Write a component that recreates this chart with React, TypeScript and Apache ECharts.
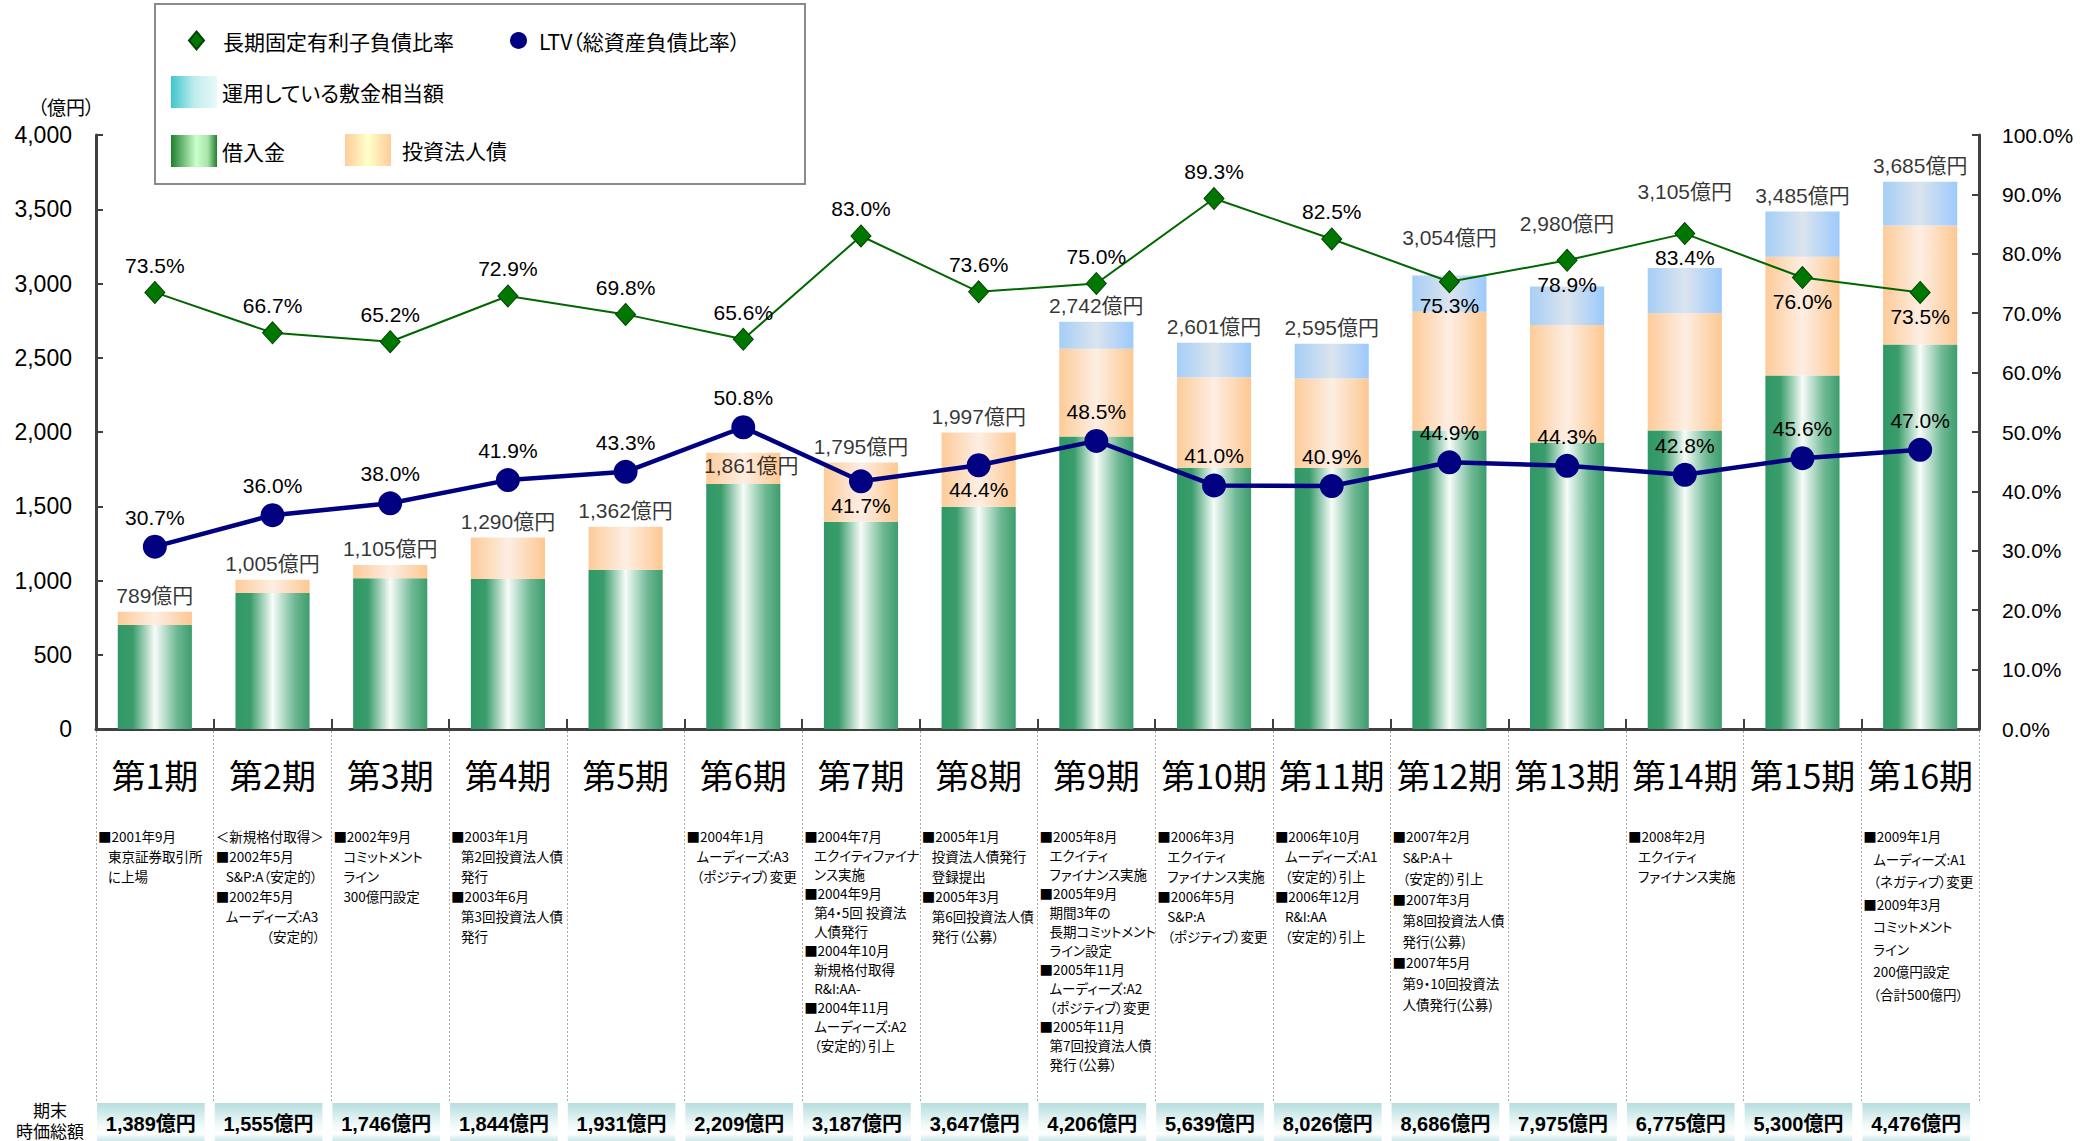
import React, { useEffect, useRef } from "react";
import * as echarts from "echarts";

// ---------------- data ----------------
const periods = [
  "第1期", "第2期", "第3期", "第4期", "第5期", "第6期", "第7期", "第8期",
  "第9期", "第10期", "第11期", "第12期", "第13期", "第14期", "第15期", "第16期",
];
// 億円
const borrowings = [700, 915, 1015, 1010, 1072, 1650, 1395, 1497, 1970, 1760, 1760, 2010, 1930, 2010, 2380, 2590];
const bonds = [89, 90, 90, 280, 290, 211, 400, 500, 590, 608, 600, 800, 790, 790, 800, 800];
const deposits = [0, 0, 0, 0, 0, 0, 0, 0, 182, 233, 235, 244, 260, 305, 305, 295];
const totals = [789, 1005, 1105, 1290, 1362, 1861, 1795, 1997, 2742, 2601, 2595, 3054, 2980, 3105, 3485, 3685];
// %
const fixedRatio = [73.5, 66.7, 65.2, 72.9, 69.8, 65.6, 83.0, 73.6, 75.0, 89.3, 82.5, 75.3, 78.9, 83.4, 76.0, 73.5];
const ltv = [30.7, 36.0, 38.0, 41.9, 43.3, 50.8, 41.7, 44.4, 48.5, 41.0, 40.9, 44.9, 44.3, 42.8, 45.6, 47.0];
// 期末時価総額 (億円)
const marketCap = [1389, 1555, 1746, 1844, 1931, 2209, 3187, 3647, 4206, 5639, 8026, 8686, 7975, 6775, 5300, 4476];

const events: string[][] = [
  ["■2001年9月", "東京証券取引所", "に上場"],
  ["＜新規格付取得＞", "■2002年5月", "S&P:A（安定的）", "■2002年5月", "ムーディーズ:A3", "　　　（安定的）"],
  ["■2002年9月", "コミットメント", "ライン", "300億円設定"],
  ["■2003年1月", "第2回投資法人債", "発行", "■2003年6月", "第3回投資法人債", "発行"],
  [],
  ["■2004年1月", "ムーディーズ:A3", "（ポジティブ）変更"],
  ["■2004年7月", "エクイティファイナ", "ンス実施", "■2004年9月", "第4・5回 投資法", "人債発行", "■2004年10月", "新規格付取得", "R&I:AA-", "■2004年11月", "ムーディーズ:A2", "（安定的）引上"],
  ["■2005年1月", "投資法人債発行", "登録提出", "■2005年3月", "第6回投資法人債", "発行（公募）"],
  ["■2005年8月", "エクイティ", "ファイナンス実施", "■2005年9月", "期間3年の", "長期コミットメント", "ライン設定", "■2005年11月", "ムーディーズ:A2", "（ポジティブ）変更", "■2005年11月", "第7回投資法人債", "発行（公募）"],
  ["■2006年3月", "エクイティ", "ファイナンス実施", "■2006年5月", "S&P:A", "（ポジティブ）変更"],
  ["■2006年10月", "ムーディーズ:A1", "（安定的）引上", "■2006年12月", "R&I:AA", "（安定的）引上"],
  ["■2007年2月", "S&P:A＋", "（安定的）引上", "■2007年3月", "第8回投資法人債", "発行(公募)", "■2007年5月", "第9・10回投資法", "人債発行(公募)"],
  [],
  ["■2008年2月", "エクイティ", "ファイナンス実施"],
  [],
  ["■2009年1月", "ムーディーズ:A1", "（ネガティブ）変更", "■2009年3月", "コミットメント", "ライン", "200億円設定", "（合計500億円）"],
];

// ---------------- names ----------------
const N_FIXED = "長期固定有利子負債比率";
const N_LTV = "LTV（総資産負債比率）";
const N_DEP = "運用している敷金相当額";
const N_BORROW = "借入金";
const N_BOND = "投資法人債";

// ---------------- styles ----------------
const FONT_NUM = '"Liberation Sans", "Noto Sans CJK JP", sans-serif';
const FONT_JP = '"Noto Sans CJK JP", "Liberation Sans", sans-serif';

// per-column line height for the event notes
const eventLineHeights: Record<number, number> = { 6: 19, 8: 19, 11: 21, 15: 22.5 };
// label tweaks
const fixedBelow = [11, 12, 13, 14, 15];
const ltvBelow = [6, 7];
const totalLabelTweaks: Record<number, any> = {
  5: { position: "bottom", distance: 2, offset: [8, 0] },
  11: { offset: [0, -22] },
  12: { offset: [0, -47] },
  13: { offset: [0, -60] },
};

const G = echarts.graphic.LinearGradient;

function buildOption(): any {
  const greenBar = new G(0, 0, 1, 0, [
    { offset: 0, color: "#2f9866" },
    { offset: 0.2, color: "#3a9c6b" },
    { offset: 0.5, color: "#f7fcf9" },
    { offset: 0.8, color: "#6db893" },
    { offset: 1, color: "#3d9d6d" },
  ]);
  const orangeBar = new G(0, 0, 1, 0, [
    { offset: 0, color: "#fdcb98" },
    { offset: 0.5, color: "#fdeee3" },
    { offset: 1, color: "#fdc891" },
  ]);
  const blueBar = new G(0, 0, 1, 0, [
    { offset: 0, color: "#a5cef6" },
    { offset: 0.5, color: "#dbe4ee" },
    { offset: 1, color: "#9ccafc" },
  ]);
  const greenLegend = new G(0, 0, 1, 0, [
    { offset: 0, color: "#1f7f2f" },
    { offset: 0.55, color: "#ccffcc" },
    { offset: 0.8, color: "#a8e4a8" },
    { offset: 1, color: "#1f7f2f" },
  ]);
  const orangeLegend = new G(0, 0, 1, 0, [
    { offset: 0, color: "#ffcc99" },
    { offset: 0.5, color: "#ffffcc" },
    { offset: 1, color: "#ffcc99" },
  ]);
  const cyanLegend = new G(0, 0, 1, 0, [
    { offset: 0, color: "#3cc6cc" },
    { offset: 0.5, color: "#bfeced" },
    { offset: 1, color: "#eaf9f9" },
  ]);
  const capGrad = new G(0, 0, 0, 1, [
    { offset: 0, color: "#b6dedf" },
    { offset: 0.55, color: "#eef8f8" },
    { offset: 0.8, color: "#ffffff" },
    { offset: 1, color: "#cbe8e8" },
  ]);

  const legendText = { fontSize: 21, color: "#000", fontFamily: FONT_JP };
  const axisColor = "#404040";
  const fmt = (v: number) => v.toLocaleString("en-US");
  const centered = { align: "center", verticalAlign: "middle", textAlign: "center", textVerticalAlign: "middle" };

  return {
    animation: false,
    textStyle: { fontFamily: FONT_NUM },
    grid: [
      { left: 96, right: 115, top: 135, bottom: 412 },
      { left: 96, right: 115, top: 731, bottom: 38 },
    ],
    legend: [
      {
        left: 188, top: 30, padding: 0, itemWidth: 15, itemHeight: 18, selectedMode: false,
        data: [{ name: N_FIXED, icon: "diamond" }],
        textStyle: { ...legendText, padding: [0, 0, 0, 14] },
      },
      {
        left: 510, top: 30, padding: 0, itemWidth: 17, itemHeight: 17, selectedMode: false,
        data: [{ name: N_LTV, icon: "circle" }],
        textStyle: { ...legendText, padding: [0, 0, 0, 7] },
      },
      {
        left: 171, top: 76, padding: 0, itemWidth: 46, itemHeight: 32, selectedMode: false,
        data: [{ name: N_DEP, icon: "rect", itemStyle: { color: cyanLegend } }],
        textStyle: legendText,
      },
      {
        left: 171, top: 135, padding: 0, itemWidth: 46, itemHeight: 32, selectedMode: false,
        data: [{ name: N_BORROW, icon: "rect", itemStyle: { color: greenLegend } }],
        textStyle: legendText,
      },
      {
        left: 345, top: 134, padding: 0, itemWidth: 46, itemHeight: 32, selectedMode: false,
        data: [{ name: N_BOND, icon: "rect", itemStyle: { color: orangeLegend } }],
        textStyle: { ...legendText, padding: [0, 0, 0, 6] },
      },
    ],
    graphic: [
      {
        type: "rect", z: 0,
        shape: { x: 155, y: 4, width: 650, height: 180 },
        style: { fill: "#ffffff", stroke: "#8a8a8a", lineWidth: 2 },
      },
      {
        type: "text", x: 66, y: 106,
        style: { text: "（億円）", fill: "#000", fontSize: 19, fontFamily: FONT_JP, ...centered },
      },
      {
        type: "text", x: 50, y: 1109,
        style: { text: "期末", fill: "#000", fontSize: 17, fontFamily: FONT_JP, ...centered },
      },
      {
        type: "text", x: 50, y: 1130,
        style: { text: "時価総額", fill: "#000", fontSize: 17, fontFamily: FONT_JP, ...centered },
      },
    ],
    xAxis: [
      {
        type: "category", gridIndex: 0, data: periods,
        axisLine: { show: true, lineStyle: { color: axisColor, width: 3 } },
        axisTick: { show: true, inside: true, length: 10, lineStyle: { color: axisColor, width: 2 } },
        axisLabel: { interval: 0, margin: 28, fontSize: 34, color: "#000", fontFamily: FONT_JP },
        splitLine: { show: false },
      },
      {
        type: "category", gridIndex: 1, data: periods,
        axisLine: { show: false }, axisTick: { show: false }, axisLabel: { show: false },
        splitLine: { show: true, interval: 0, lineStyle: { color: "#a8a8a8", width: 1, type: [2, 2] } },
      },
    ],
    yAxis: [
      {
        type: "value", gridIndex: 0, min: 0, max: 4000, interval: 500,
        axisLine: { show: true, lineStyle: { color: axisColor, width: 3 } },
        axisTick: { show: true, inside: true, length: 7, lineStyle: { color: axisColor, width: 2 } },
        axisLabel: { fontSize: 23, color: "#000", margin: 24, fontFamily: FONT_NUM, formatter: (v: number) => fmt(v) },
        splitLine: { show: false },
      },
      {
        type: "value", gridIndex: 0, position: "right", min: 0, max: 100, interval: 10,
        axisLine: { show: true, lineStyle: { color: axisColor, width: 3 } },
        axisTick: { show: true, inside: true, length: 7, lineStyle: { color: axisColor, width: 2 } },
        axisLabel: { fontSize: 21, color: "#000", margin: 23, fontFamily: FONT_NUM, formatter: (v: number) => v.toFixed(1) + "%" },
        splitLine: { show: false },
      },
      { type: "value", gridIndex: 1, min: 0, max: 1, show: false },
    ],
    series: [
      {
        name: N_BORROW, type: "bar", stack: "debt", barWidth: "63%",
        itemStyle: { color: greenBar }, data: borrowings,
      },
      {
        name: N_BOND, type: "bar", stack: "debt",
        itemStyle: { color: orangeBar }, data: bonds,
      },
      {
        name: N_DEP, type: "bar", stack: "debt",
        itemStyle: { color: blueBar }, data: deposits,
      },
      {
        name: "合計", type: "scatter", symbolSize: 1, z: 5,
        itemStyle: { color: "rgba(0,0,0,0)" },
        label: {
          show: true, position: "top", distance: 5, fontSize: 21, color: "#000", fontFamily: FONT_NUM,
          formatter: (p: any) => fmt(p.value) + "億円",
        },
        data: totals.map((v, i) => (totalLabelTweaks[i] ? { value: v, label: totalLabelTweaks[i] } : v)),
      },
      {
        name: N_FIXED, type: "line", yAxisIndex: 1, z: 6,
        symbol: "diamond", symbolSize: [20, 22],
        lineStyle: { color: "#006600", width: 2 },
        itemStyle: { color: "#007700", borderColor: "#004400", borderWidth: 1 },
        label: {
          show: true, position: "top", distance: 5, fontSize: 21, color: "#000", fontFamily: FONT_NUM,
          formatter: (p: any) => Number(p.value).toFixed(1) + "%",
        },
        data: fixedRatio.map((v, i) => (fixedBelow.includes(i) ? { value: v, label: { position: "bottom", distance: 2 } } : v)),
      },
      {
        name: N_LTV, type: "line", yAxisIndex: 1, z: 7,
        symbol: "circle", symbolSize: 24,
        lineStyle: { color: "#000080", width: 4.5 },
        itemStyle: { color: "#000080" },
        label: {
          show: true, position: "top", distance: 7, fontSize: 21, color: "#000", fontFamily: FONT_NUM,
          formatter: (p: any) => Number(p.value).toFixed(1) + "%",
        },
        data: ltv.map((v, i) => (ltvBelow.includes(i) ? { value: v, label: { position: "bottom", distance: 2 } } : v)),
      },
      {
        name: "notes", type: "custom", xAxisIndex: 1, yAxisIndex: 2, clip: false, silent: true,
        encode: { x: 0, y: 1 },
        data: periods.map((_, i) => [i, 1]),
        renderItem: (params: any, api: any) => {
          const i = params.dataIndex;
          const top = api.coord([i, 1]);
          const bottom = api.coord([i, 0]);
          const bw = api.size([1, 0])[0];
          const left = top[0] - bw / 2;
          const lh = eventLineHeights[i] ?? 20;
          const children: any[] = events[i].map((line, k) => ({
            type: "text",
            x: left + 2 + (line.startsWith("■") || line.startsWith("＜") ? 0 : 10),
            y: top[1] + 105 + k * lh,
            style: {
              text: line, fill: "#000", fontSize: 13.5, fontFamily: FONT_JP,
              align: "left", verticalAlign: "middle",
            },
          }));
          const boxW = bw - 10;
          children.push({
            type: "rect",
            shape: { x: left + 1, y: bottom[1], width: boxW, height: 38 },
            style: { fill: capGrad },
          });
          children.push({
            type: "text",
            x: left + 1 + boxW / 2,
            y: bottom[1] + 21,
            style: {
              text: fmt(marketCap[i]) + "億円", fill: "#000", fontSize: 20, fontWeight: "bold",
              fontFamily: FONT_NUM, align: "center", verticalAlign: "middle",
            },
          });
          return { type: "group", children };
        },
      },
    ],
  };
}

export default function App() {
  const ref = useRef<HTMLDivElement>(null);
  useEffect(() => {
    document.body.style.margin = "0";
    const chart = echarts.init(ref.current!, undefined, { renderer: "svg" });
    chart.setOption(buildOption());
    return () => chart.dispose();
  }, []);
  return (
    <>
      <style>{`#root svg text { font-feature-settings: "palt" 1 !important; }`}</style>
      <div ref={ref} style={{ width: 2094, height: 1141 }} />
    </>
  );
}
